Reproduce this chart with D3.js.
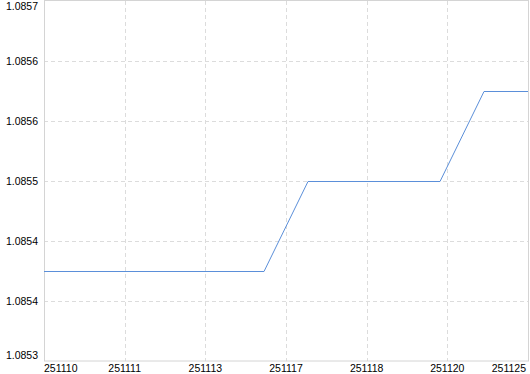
<!DOCTYPE html>
<html>
<head>
<meta charset="utf-8">
<script src="https://cdn.jsdelivr.net/npm/d3@7"></script>
<style>
body { margin: 0; background: #fff; }
text { font-family: "Liberation Sans", Arial, sans-serif; font-size: 10.5px; fill: #000; }
</style>
</head>
<body>
<svg></svg>
<script>
// x positions are sample indices, ticks every 11 samples
var tickLabels = ["251110", "251111", "251113", "251117", "251118", "251120", "251125"];
var yTicks = [1.08532, 1.08538, 1.08544, 1.0855, 1.08556, 1.08562, 1.08568];
var yLabels = ["1.0853", "1.0854", "1.0854", "1.0855", "1.0856", "1.0856", "1.0857"];
var pointIndex = [0, 30, 36, 54, 60, 66];
var pointValue = [1.08541, 1.08541, 1.0855, 1.0855, 1.08559, 1.08559];

var width = 530, height = 374;
var plotL = 44, plotR = 528, plotT = 1, plotB = 361;

var svg = d3.select("svg")
    .attr("width", width)
    .attr("height", height);

var x = d3.scaleLinear().domain([0, 66]).range([plotL, plotR]);
var y = d3.scaleLinear().domain([1.08532, 1.08568]).range([plotB, plotT]);

var tickIdx = tickLabels.map((d, i) => i * 11);

// grid
var grid = svg.append("g");
grid.selectAll("line.gx")
    .data(tickIdx.slice(1, -1))
    .enter().append("line")
        .attr("x1", d => Math.round(x(d)) + 0.5).attr("x2", d => Math.round(x(d)) + 0.5)
        .attr("y1", plotT).attr("y2", plotB)
        .attr("stroke", "#dcdcdc")
        .attr("stroke-dasharray", "4,3");
grid.selectAll("line.gy")
    .data(yTicks.slice(1, -1))
    .enter().append("line")
        .attr("y1", d => Math.round(y(d)) + 0.5).attr("y2", d => Math.round(y(d)) + 0.5)
        .attr("x1", plotL).attr("x2", plotR)
        .attr("stroke", "#dcdcdc")
        .attr("stroke-dasharray", "4,3");

// frame
svg.append("rect")
    .attr("x", plotL + 0.5).attr("y", plotT - 0.5)
    .attr("width", plotR - plotL).attr("height", plotB - plotT + 0.5)
    .attr("fill", "none")
    .attr("stroke", "#d4d4d4");

// line
var pts = pointIndex.map((d, i) => [d, pointValue[i]]);
svg.append("path")
    .datum(pts)
    .attr("fill", "none")
    .attr("stroke", "#5b8fd9")
    .attr("stroke-width", 1)
    .attr("d", d3.line().x(d => x(d[0])).y(d => Math.round(y(d[1])) + 0.5));

// y labels
svg.append("g").selectAll("text")
    .data(yTicks)
    .enter().append("text")
        .attr("x", 38)
        .attr("y", (d, i) => {
            var p = y(d) + 4;
            if (i === yTicks.length - 1) p = 10;
            if (i === 0) p = 359;
            return p;
        })
        .attr("text-anchor", "end")
        .text((d, i) => yLabels[i]);

// x labels
svg.append("g").selectAll("text")
    .data(tickIdx)
    .enter().append("text")
        .attr("x", (d, i) => i === 0 ? plotL : (i === tickIdx.length - 1 ? 526 : x(d)))
        .attr("y", 372)
        .attr("text-anchor", (d, i) => i === 0 ? "start" : (i === tickIdx.length - 1 ? "end" : "middle"))
        .text((d, i) => tickLabels[i]);
</script>
</body>
</html>
